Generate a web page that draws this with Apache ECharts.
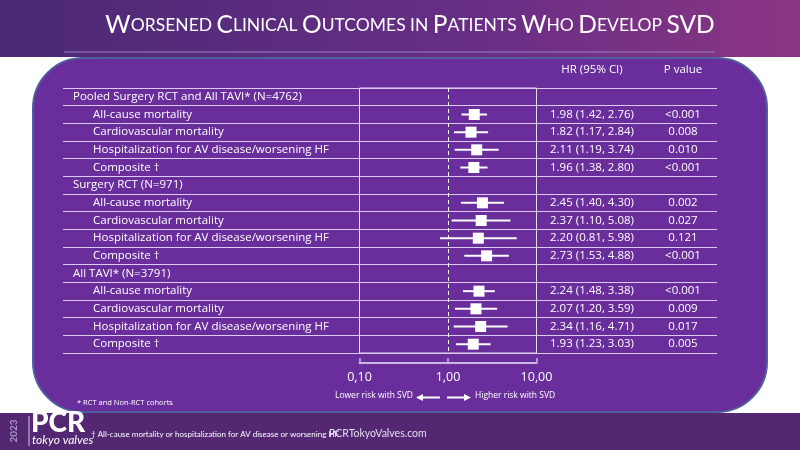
<!DOCTYPE html>
<html><head><meta charset="utf-8">
<script src="https://cdn.jsdelivr.net/npm/echarts@6/dist/echarts.min.js"></script>
<style>html,body{margin:0;padding:0;background:#fff}#c{width:800px;height:450px}</style>
</head><body><div id="c"></div>
<script>
// ---- data ----
const rowLabels = [
  'Pooled Surgery RCT and All TAVI* (N=4762)',
  'All-cause mortality',
  'Cardiovascular mortality',
  'Hospitalization for AV disease/worsening HF',
  'Composite \u2020',
  'Surgery RCT (N=971)',
  'All-cause mortality',
  'Cardiovascular mortality',
  'Hospitalization for AV disease/worsening HF',
  'Composite \u2020',
  'All TAVI* (N=3791)',
  'All-cause mortality',
  'Cardiovascular mortality',
  'Hospitalization for AV disease/worsening HF',
  'Composite \u2020'
];
const isGroup = [true,false,false,false,false,true,false,false,false,false,true,false,false,false,false];
const hrValues = [null,1.98,1.82,2.11,1.96,null,2.45,2.37,2.20,2.73,null,2.24,2.07,2.34,1.93];
const ciLow    = [null,1.42,1.17,1.19,1.38,null,1.40,1.10,0.81,1.53,null,1.48,1.20,1.16,1.23];
const ciHigh   = [null,2.76,2.84,3.74,2.80,null,4.30,5.08,5.98,4.88,null,3.38,3.59,4.71,3.03];
const pValues  = ['','<0.001','0.008','0.010','<0.001','','0.002','0.027','0.121','<0.001','','<0.001','0.009','0.017','0.005'];
const xTickLabels = {'0.1':'0,10','1':'1,00','10':'10,00'};
const titleWords = [['W','ORSENED'],['C','LINICAL'],['O','UTCOMES'],['','IN'],['P','ATIENTS'],['W','HO'],['D','EVELOP'],['SVD','']];

// ---- build ----
const cats = rowLabels.map((_, i) => String(i));
const rightCol = rowLabels.map((_, i) => hrValues[i] == null ? '' :
  hrValues[i].toFixed(2) + ' (' + ciLow[i].toFixed(2) + ', ' + ciHigh[i].toFixed(2) + ')|' + pValues[i]);
const forestData = [];
hrValues.forEach((v, i) => { if (v != null) forestData.push([i, v, ciLow[i], ciHigh[i]]); });
const titleRich = titleWords.map(w => (w[0] ? '{b|' + w[0] + '}' : '') + (w[1] ? '{s|' + w[1] + '}' : '')).join('{sp| }');

const FONT = 'Lato';
const TFONT = 'Open Sans';
const TSIZE = 11.5;
const chart = echarts.init(document.getElementById('c'));
const option = {
  backgroundColor: '#ffffff',
  animation: false,
  textStyle: { fontFamily: FONT },
  graphic: [
    { type: 'rect', z: -10, shape: { x: 0, y: 0, width: 800, height: 57 },
      style: { fill: new echarts.graphic.LinearGradient(0, 0, 1, 0, [
        { offset: 0, color: '#4b2974' }, { offset: 0.6, color: '#682e86' }, { offset: 1, color: '#8b3582' }]) } },
    { type: 'line', z: -9, shape: { x1: 64, y1: 52, x2: 715, y2: 52 }, style: { stroke: '#9b7fc4', lineWidth: 1 } },
    { type: 'rect', z: -10, shape: { x: 33, y: 58, width: 734, height: 354, r: 50 },
      style: { fill: '#6a2d9c', stroke: '#4f5f9f', lineWidth: 2 } },
    { type: 'rect', z: -9, shape: { x: 0, y: 413, width: 800, height: 37 }, style: { fill: '#532772' } },
    { type: 'text', z: 5, x: 410, y: 25, style: { text: titleRich, align: 'center', verticalAlign: 'middle',
      fill: '#ffffff', rich: {
        b: { fontSize: 24.5, fontFamily: FONT, fill: '#fff' },
        s: { fontSize: 17.5, fontFamily: FONT, fill: '#fff' },
        sp: { fontSize: 17.5, fontFamily: FONT, fill: '#fff' } } } },
    { type: 'text', z: 5, x: 592, y: 70, style: { text: 'HR (95% CI)', align: 'center', verticalAlign: 'middle', fill: '#fff', fontSize: TSIZE, fontFamily: TFONT } },
    { type: 'text', z: 5, x: 683, y: 70, style: { text: 'P value', align: 'center', verticalAlign: 'middle', fill: '#fff', fontSize: TSIZE, fontFamily: TFONT } },
    { type: 'text', z: 5, x: 413, y: 396, style: { text: 'Lower risk with SVD', align: 'right', verticalAlign: 'middle', fill: '#fff', fontSize: 8.5, fontFamily: TFONT } },
    { type: 'text', z: 5, x: 475, y: 396, style: { text: 'Higher risk with SVD', align: 'left', verticalAlign: 'middle', fill: '#fff', fontSize: 8.5, fontFamily: TFONT } },
    { type: 'line', z: 5, shape: { x1: 440, y1: 397.5, x2: 421, y2: 397.5 }, style: { stroke: '#fff', lineWidth: 2 } },
    { type: 'polygon', z: 5, shape: { points: [[416, 397.5], [423, 394], [423, 401]] }, style: { fill: '#fff' } },
    { type: 'line', z: 5, shape: { x1: 447, y1: 397.5, x2: 466, y2: 397.5 }, style: { stroke: '#fff', lineWidth: 2 } },
    { type: 'polygon', z: 5, shape: { points: [[471, 397.5], [464, 394], [464, 401]] }, style: { fill: '#fff' } },
    { type: 'text', z: 5, x: 77, y: 403, style: { text: '* RCT and Non-RCT cohorts', align: 'left', verticalAlign: 'middle', fill: '#fff', fontSize: 7.5, fontFamily: TFONT } },
    { type: 'text', z: 5, x: 14, y: 431, rotation: Math.PI / 2, style: { text: '2023', align: 'center', verticalAlign: 'middle', fill: '#a996c6', fontSize: 10, fontWeight: 'bold', fontFamily: FONT } },
    { type: 'line', z: 5, shape: { x1: 29, y1: 416, x2: 29, y2: 446 }, style: { stroke: '#d8cce8', lineWidth: 1 } },
    { type: 'text', z: 5, x: 31, y: 423, style: { text: 'PCR', align: 'left', verticalAlign: 'middle', fill: '#fff', fontSize: 28, fontWeight: 900, fontFamily: FONT } },
    { type: 'text', z: 5, x: 32, y: 440, style: { text: 'tokyo valves', align: 'left', verticalAlign: 'middle', fill: '#fff', fontSize: 12, fontStyle: 'italic', fontFamily: FONT } },
    { type: 'text', z: 5, x: 91, y: 434, style: { text: '\u2020 All-cause mortality or hospitalization for AV disease or worsening HF', align: 'left', verticalAlign: 'middle', fill: '#fff', fontSize: 8, fontFamily: FONT } },
    { type: 'text', z: 6, x: 329, y: 434, style: { text: 'PCRTokyoValves.com', align: 'left', verticalAlign: 'middle', fill: '#e4dcef', fontSize: 10.5, fontFamily: FONT } }
  ],
  grid: [
    { left: 63, right: 83, top: 88, height: 265, containLabel: false },
    { left: 359.5, width: 177, top: 88, height: 265, show: true, borderColor: '#eadcf5', borderWidth: 1, backgroundColor: 'transparent' }
  ],
  xAxis: [
    { gridIndex: 0, type: 'value', show: false, min: 0, max: 1 },
    { gridIndex: 1, type: 'log', logBase: 10, min: 0.1, max: 10, position: 'bottom', offset: 10,
      splitLine: { show: false },
      axisLine: { show: true, lineStyle: { color: '#cdb6e6', width: 2 } },
      axisTick: { show: true, inside: true, length: 5, lineStyle: { color: '#cdb6e6', width: 1.5 } },
      axisLabel: { color: '#fff', fontSize: 12.5, margin: 8, fontFamily: TFONT,
        formatter: v => xTickLabels[String(Math.round(v * 100) / 100)] || '' } }
  ],
  yAxis: [
    { gridIndex: 0, type: 'category', data: cats, inverse: true,
      axisLine: { show: false }, axisTick: { show: false },
      splitLine: { show: true, interval: 0, lineStyle: { color: '#dccaf0', width: 1 } },
      axisLabel: { inside: true, margin: 10, interval: 0, color: '#fff',
        formatter: (v, i) => (isGroup[i] ? '{g|' : '{s|') + rowLabels[i] + '}',
        rich: { g: { fontSize: TSIZE, color: '#fff', fontFamily: TFONT },
                s: { fontSize: TSIZE, color: '#fff', fontFamily: TFONT, padding: [0, 0, 0, 20] } } } },
    { gridIndex: 0, type: 'category', data: cats, inverse: true, position: 'right',
      axisLine: { show: false }, axisTick: { show: false }, splitLine: { show: false },
      axisLabel: { inside: true, margin: 4, interval: 0, color: '#fff',
        formatter: (v, i) => { const t = rightCol[i]; if (!t) return ''; const p = t.split('|'); return '{h|' + p[0] + '}{p|' + p[1] + '}'; },
        rich: { h: { width: 122, align: 'center', fontSize: TSIZE, color: '#fff', fontFamily: TFONT },
                p: { width: 60, align: 'center', fontSize: TSIZE, color: '#fff', fontFamily: TFONT } } } },
    { gridIndex: 1, type: 'category', data: cats, inverse: true, show: false }
  ],
  series: [{
    type: 'custom', xAxisIndex: 1, yAxisIndex: 2, data: forestData,
    encode: { x: [1, 2, 3], y: 0 },
    renderItem: (params, api) => {
      const row = api.value(0);
      const pt = api.coord([api.value(1), row]);
      const lo = api.coord([api.value(2), row]);
      const hi = api.coord([api.value(3), row]);
      const s = 11;
      return { type: 'group', children: [
        { type: 'line', shape: { x1: lo[0], y1: lo[1], x2: hi[0], y2: hi[1] }, style: { stroke: '#fff', lineWidth: 2 } },
        { type: 'rect', shape: { x: pt[0] - s / 2, y: pt[1] - s / 2, width: s, height: s }, style: { fill: '#fff' } }
      ] };
    },
    markLine: { silent: true, symbol: 'none', label: { show: false },
      lineStyle: { color: '#fff', type: [4, 3], width: 1 }, data: [{ xAxis: 1 }] }
  }]
};
chart.setOption(option);
</script></body></html>
